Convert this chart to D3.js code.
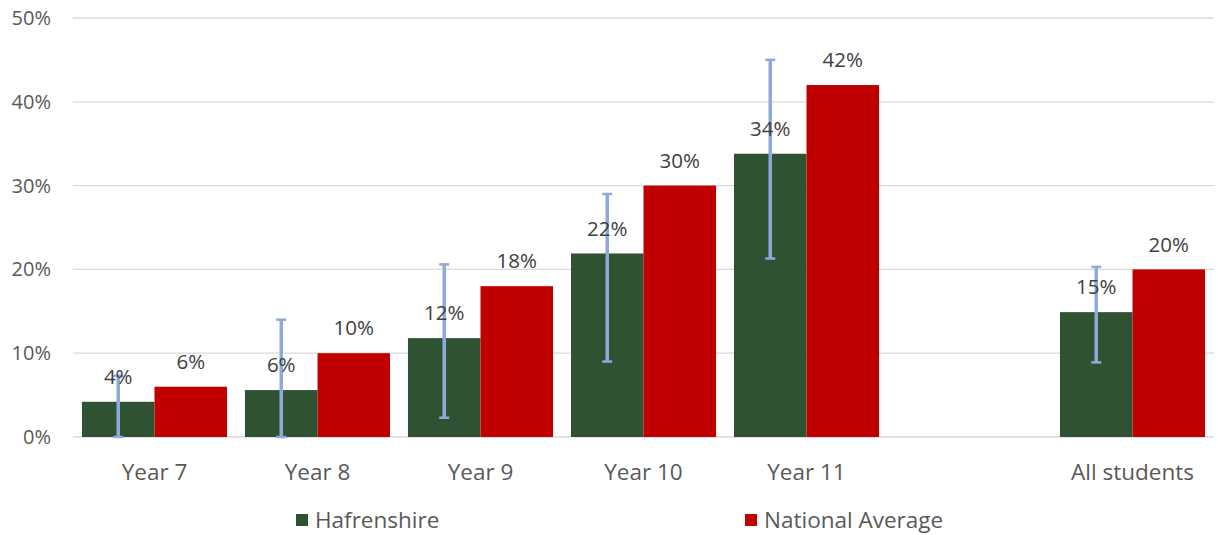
<!DOCTYPE html>
<html><head><meta charset="utf-8">
<script src="https://cdn.jsdelivr.net/npm/d3@7"></script>
<style>body{margin:0;background:#fff;} svg{display:block;font-family:"Open Sans",sans-serif;}</style>
</head><body>
<svg id="c" width="1218" height="535"></svg>
<script>
const categories = ["Year 7","Year 8","Year 9","Year 10","Year 11","","All students"];
const hafrenshire = [4.2, 5.6, 11.8, 21.9, 33.8, null, 14.9];
const national = [6, 10, 18, 30, 42, null, 20];
const errLow = [0, 0, 2.3, 9, 21.3, null, 8.9];
const errHigh = [7.3, 14, 20.6, 29, 45, null, 20.3];
const hafLabels = ["4%","6%","12%","22%","34%","","15%"];
const natLabels = ["6%","10%","18%","30%","42%","","20%"];
const yTicks = [0,10,20,30,40,50];
const seriesNames = ["Hafrenshire","National Average"];
const colors = ["#2F5233","#C00000"];

(function(){
const svg = d3.select("#c");
const pL = 73, pR = 1214, pT = 18, pB = 437;
const x = d3.scaleBand().domain(categories.map((c,i)=>i)).range([pL,pR]).paddingInner(0.11).paddingOuter(0.055);
const y = d3.scaleLinear().domain([0,50]).range([pB,pT]);
const inner = d3.scaleBand().domain([0,1]).range([0,x.bandwidth()]);

svg.append("g").selectAll("line").data(yTicks).join("line")
  .attr("x1",pL).attr("x2",pR).attr("y1",d=>y(d)).attr("y2",d=>y(d))
  .attr("stroke","#D9D9D9").attr("stroke-width",1.3);

svg.append("g").selectAll("text").data(yTicks).join("text")
  .attr("x",51).attr("y",d=>y(d)).attr("dy","0.35em").attr("text-anchor","end")
  .attr("fill","#595959").attr("font-size",20).text(d=>d+"%");

svg.append("g").selectAll("text").data(categories).join("text")
  .attr("x",(d,i)=>x(i)+x.bandwidth()/2).attr("y",472).attr("dy","0.35em").attr("text-anchor","middle")
  .attr("fill","#595959").attr("font-size",22.5).text(d=>d);

const idx = categories.map((c,i)=>i).filter(i=>hafrenshire[i]!=null);
const series = [hafrenshire, national];
series.forEach((s,k)=>{
  svg.append("g").selectAll("rect").data(idx).join("rect")
    .attr("x",i=>x(i)+inner(k)).attr("width",inner.bandwidth())
    .attr("y",i=>y(s[i])).attr("height",i=>y(0)-y(s[i]))
    .attr("fill",colors[k]);
});

const eg = svg.append("g").attr("stroke","#8EA9DB").attr("stroke-width",3.5);
idx.forEach(i=>{
  const cx = x(i)+inner(0)+inner.bandwidth()/2;
  eg.append("line").attr("x1",cx).attr("x2",cx).attr("y1",y(errLow[i])).attr("y2",y(errHigh[i]));
  eg.append("line").attr("x1",cx-5).attr("x2",cx+5).attr("y1",y(errLow[i])).attr("y2",y(errLow[i])).attr("stroke-width",2.5);
  eg.append("line").attr("x1",cx-5).attr("x2",cx+5).attr("y1",y(errHigh[i])).attr("y2",y(errHigh[i])).attr("stroke-width",2.5);
});

[hafLabels, natLabels].forEach((labs,k)=>{
  svg.append("g").selectAll("text").data(idx).join("text")
    .attr("x",i=>x(i)+inner(k)+inner.bandwidth()/2).attr("y",i=>y(series[k][i])-25).attr("dy","0.35em")
    .attr("text-anchor","middle").attr("fill","#404040").attr("font-size",20.5).text(i=>labs[i]);
});

const legX = [296, 745];
seriesNames.forEach((n,k)=>{
  svg.append("rect").attr("x",legX[k]).attr("y",514).attr("width",12).attr("height",12).attr("fill",colors[k]);
  svg.append("text").attr("x",legX[k]+19).attr("y",520).attr("dy","0.35em").attr("fill","#595959").attr("font-size",22.5).text(n);
});
})();
</script>
</body></html>
